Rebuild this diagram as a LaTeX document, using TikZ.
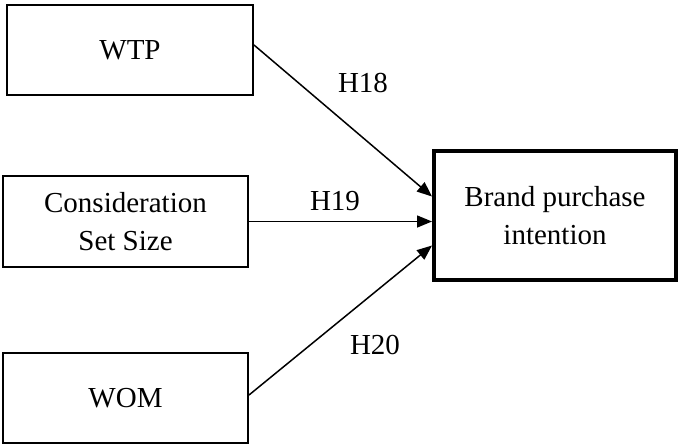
\documentclass[tikz,border=0pt]{standalone}
\usepackage{fontspec}
\setmainfont{Liberation Serif}
\usetikzlibrary{arrows.meta}
\begin{document}
\begin{tikzpicture}[x=1pt,y=-1pt,
  every node/.style={font=\fontsize{29}{38}\selectfont},
  box/.style={draw,line width=2pt,align=center,inner sep=0pt},
  bigbox/.style={draw,line width=4pt,align=center,inner sep=0pt},
  link/.style={line width=1.5pt,-{Triangle[length=15pt,width=12pt]}},
  lab/.style={anchor=base}]
\useasboundingbox (0,0) rectangle (679,445);
\node[box,minimum width=246pt,minimum height=90pt] (wtp) at (130,50) {WTP};
\node[box,minimum width=245pt,minimum height=91pt] (cons) at (125.5,221.5) {Consideration\\Set Size};
\node[box,minimum width=245pt,minimum height=90pt] (wom) at (125.5,398) {WOM};
\node[bigbox,minimum width=242pt,minimum height=129pt] (brand) at (555,215.5) {Brand purchase\\intention};
\draw[link] ([yshift=5pt]wtp.east) -- ([yshift=19pt]brand.west);
\draw[link] (cons.east) -- (cons.east -| brand.west);
\draw[link] ([yshift=3pt]wom.east) -- ([yshift=-30pt]brand.west);
\node[lab] (h18) at (363,92) {H18};
\node[lab] (h19) at (335,210) {H19};
\node[lab] (h20) at (375,354) {H20};
\end{tikzpicture}
\end{document}
